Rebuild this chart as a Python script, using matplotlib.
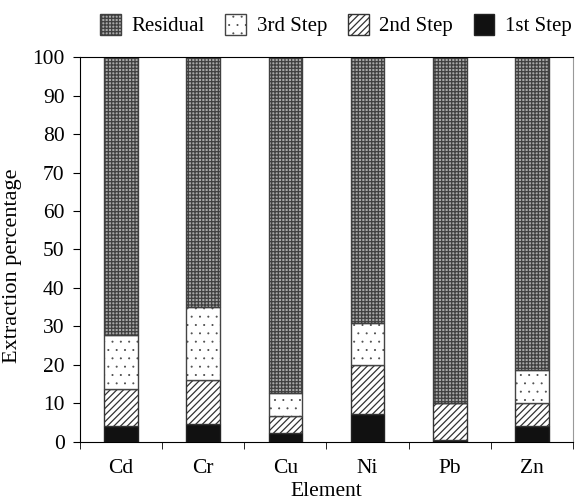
import matplotlib
matplotlib.use('Agg')
import matplotlib.pyplot as plt
from matplotlib import hatch
from matplotlib.patches import Patch

elements = ['Cd', 'Cr', 'Cu', 'Ni', 'Pb', 'Zn']
step1 = [4.2, 4.6, 2.4, 7.2, 0.5, 4.2]
step2 = [9.5, 11.5, 4.4, 12.8, 9.6, 6.0]
step3 = [14.1, 18.9, 5.8, 10.8, 0.0, 8.55]
residual = [100 - a - b - c for a, b, c in zip(step1, step2, step3)]

plt.rcParams['font.family'] = ['Liberation Serif', 'DejaVu Serif']
plt.rcParams['hatch.linewidth'] = 0.9
# smaller dots for the '.' hatch
hatch.SmallFilledCircles.size = 0.045

fig = plt.figure(figsize=(5.81, 5.01), dpi=100)
ax = fig.add_axes([0.1377, 0.1178, 0.8485, 0.7684])

x = list(range(len(elements)))
w = 0.41
ec = '#333333'

ax.bar(x, step1, w, color='#111111', edgecolor='#222222', linewidth=1)
ax.bar(x, step2, w, bottom=step1, color='white', edgecolor=ec,
       hatch='/////', linewidth=1)
bot3 = [a + b for a, b in zip(step1, step2)]
ax.bar(x, step3, w, bottom=bot3, color='white', edgecolor='#444444',
       hatch='..', linewidth=1)
bot4 = [a + b for a, b in zip(bot3, step3)]
ax.bar(x, residual, w, bottom=bot4, color='#a8a8a8', edgecolor='#404040',
       hatch='+++++', linewidth=1)

ax.set_xlim(-0.5, len(elements) - 0.5)
ax.set_ylim(0, 100)
ax.set_yticks(range(0, 101, 10))
ax.set_xticks(x)
ax.set_xticklabels(elements, fontsize=15.5)
ax.set_xticks([i - 0.5 for i in range(len(elements) + 1)], minor=True)
ax.tick_params(axis='x', which='major', length=0, pad=12)
ax.tick_params(axis='x', which='minor', length=5, direction='out')
ax.tick_params(axis='y', length=5, direction='out', labelsize=15.5, pad=6)
ax.spines['right'].set_color('#999999')
ax.set_ylabel('Extraction percentage', fontsize=16)
ax.yaxis.set_label_coords(-0.118, 0.457)
ax.set_xlabel('Element', fontsize=15.5, labelpad=3)

handles = [
    Patch(facecolor='#a8a8a8', edgecolor='#404040', hatch='+++++'),
    Patch(facecolor='white', edgecolor='#444444', hatch='..'),
    Patch(facecolor='white', edgecolor=ec, hatch='/////'),
    Patch(facecolor='#111111', edgecolor='#222222'),
]
fig.legend(handles, ['Residual', '3rd Step', '2nd Step', '1st Step'],
           loc='upper center', bbox_to_anchor=(0.578, 1.01), ncol=4,
           frameon=False, fontsize=15, handlelength=1.0, handleheight=1.2,
           columnspacing=1.0, handletextpad=0.5)

fig.savefig('out.png', dpi=100)
